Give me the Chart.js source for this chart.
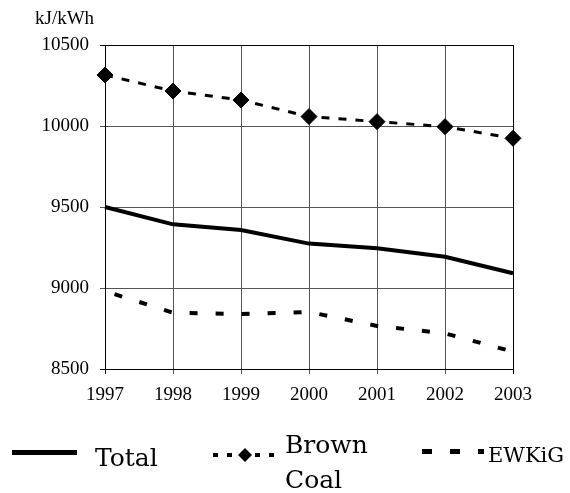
<!DOCTYPE html>
<html lang="en">
<head>
    <meta charset="UTF-8">
    <title>Specific heat consumption</title>
    <script src="https://cdn.jsdelivr.net/npm/chart.js"></script>
    <style>
        body { margin: 0; background: #fff; }
        #wrap { position: relative; width: 570px; height: 493px; overflow: hidden; }
        #chart { position: absolute; left: 0; top: 0; }
        .txt { position: absolute; color: #000; white-space: nowrap; }
        .unit { left: 35px; top: 8px; font: 19px "Liberation Serif", serif; line-height: 1; }
        .leg { font-family: "DejaVu Serif", serif; }
        #samples { position: absolute; left: 0; top: 0; }
    </style>
</head>
<body>
<div id="wrap">
    <canvas id="chart" width="570" height="420"></canvas>
    <div class="txt unit">kJ/kWh</div>

    <!-- legend -->
    <svg id="samples" width="570" height="493">
        <line x1="12" y1="452.5" x2="77" y2="452.5" stroke="#000" stroke-width="5"/>
        <line x1="213" y1="455" x2="274" y2="455" stroke="#000" stroke-width="4" stroke-dasharray="5 9"/>
        <polygon points="245,448 252,455 245,462 238,455" fill="#000"/>
        <line x1="422" y1="451.5" x2="484" y2="451.5" stroke="#000" stroke-width="5" stroke-dasharray="10 18"/>
    </svg>
    <div class="txt leg" style="left:95px; top:445px; font-size:25px; line-height:1;">Total</div>
    <div class="txt leg" style="left:285px; top:427px; font-size:25px; line-height:35px;">Brown<br>Coal</div>
    <div class="txt leg" style="left:488px; top:445px; font-size:21px; line-height:1;">EWKiG</div>
</div>

<script>
    const years = ['1997', '1998', '1999', '2000', '2001', '2002', '2003'];
    const total = [9500, 9393, 9358, 9274, 9245, 9193, 9091];
    const brownCoal = [10315, 10216, 10160, 10058, 10027, 9996, 9924];
    const ewkig = [8981, 8847, 8839, 8852, 8766, 8720, 8607];
    const yTicks = [8500, 9000, 9500, 10000, 10500];

    const tickFont = { family: 'Liberation Serif', size: 19 };

    // box edges black, inner grid a bit lighter
    function gridColor(ctx, count) {
        return (ctx.index === 0 || ctx.index === count - 1) ? '#000' : '#555';
    }

    new Chart(document.getElementById('chart').getContext('2d'), {
        type: 'line',
        data: {
            labels: years,
            datasets: [
                {
                    label: 'Total',
                    data: total,
                    borderColor: '#000',
                    borderWidth: 4,
                    pointRadius: 0,
                    clip: false
                },
                {
                    label: 'Brown Coal',
                    data: brownCoal,
                    borderColor: '#000',
                    borderWidth: 3,
                    borderDash: [8, 9],
                    pointStyle: 'rectRot',
                    pointRadius: 8,
                    pointBorderWidth: 1,
                    pointBackgroundColor: '#000',
                    pointBorderColor: '#000',
                    clip: false
                },
                {
                    label: 'EWKiG',
                    data: ewkig,
                    borderColor: '#000',
                    borderWidth: 4,
                    borderDash: [8, 18],
                    borderDashOffset: 16,
                    pointRadius: 0,
                    clip: false
                }
            ]
        },
        options: {
            responsive: false,
            animation: false,
            layout: { padding: { left: 0, top: 45, right: 57, bottom: 0 } },
            plugins: {
                legend: { display: false },
                tooltip: { enabled: false }
            },
            scales: {
                x: {
                    offset: false,
                    border: { color: '#000', width: 1 },
                    grid: {
                        color: ctx => gridColor(ctx, years.length),
                        tickLength: 5
                    },
                    ticks: { color: '#000', font: tickFont, padding: 10, maxRotation: 0 },
                    afterFit: scale => { scale.height = 51; }
                },
                y: {
                    min: 8500,
                    max: 10500,
                    border: { color: '#000', width: 1 },
                    grid: {
                        color: ctx => gridColor(ctx, yTicks.length),
                        tickLength: 5
                    },
                    ticks: {
                        color: '#000',
                        font: tickFont,
                        padding: 11,
                        callback: v => String(v)
                    },
                    afterBuildTicks: scale => { scale.ticks = yTicks.map(v => ({ value: v })); },
                    afterFit: scale => { scale.width = 105; }
                }
            }
        }
    });
</script>
</body>
</html>
